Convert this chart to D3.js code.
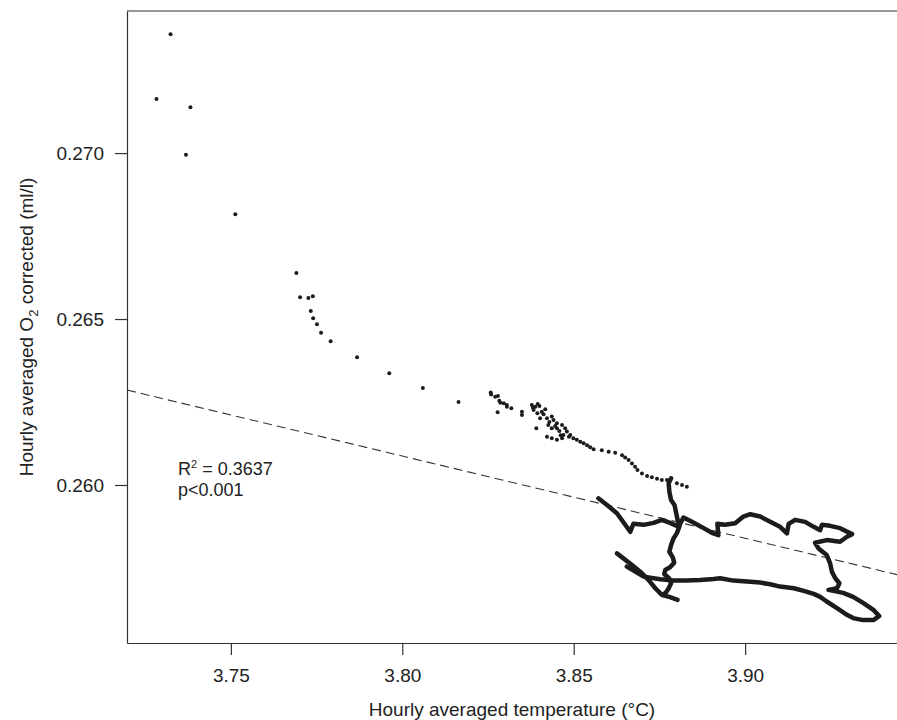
<!DOCTYPE html>
<html>
<head>
<meta charset="utf-8">
<script src="https://cdn.jsdelivr.net/npm/d3@7"></script>
<style>
  body { margin: 0; background: #fff; }
  text { font-family: "Liberation Sans", Arial, Helvetica, sans-serif; fill: #222; }
</style>
</head>
<body>
<div id="chart"></div>
<script>
// hourly means: [temperature (°C), O2 corrected (ml/l)]
const scatterPoints = [
  [3.7324, 0.27358], [3.7283, 0.27163], [3.7382, 0.27138], [3.7369, 0.26995],
  [3.7513, 0.26816], [3.7691, 0.26639], [3.7702, 0.26566], [3.7726, 0.26563],
  [3.7739, 0.26569], [3.7733, 0.26524], [3.7740, 0.26502], [3.7751, 0.26484],
  [3.7763, 0.26459], [3.7791, 0.26433], [3.7868, 0.26385], [3.7962, 0.26337],
  [3.8060, 0.26292], [3.8164, 0.26250],
  [3.8258, 0.26279], [3.8259, 0.26273], [3.8271, 0.26266], [3.8279, 0.26268],
  [3.8283, 0.26254], [3.8286, 0.26248], [3.8296, 0.26246], [3.8305, 0.26241],
  [3.8305, 0.26236], [3.8318, 0.26231], [3.8278, 0.26219], [3.8349, 0.26221],
  [3.8349, 0.26211],
  [3.8378, 0.26241], [3.8388, 0.26236], [3.8400, 0.26238], [3.8383, 0.26226],
  [3.8394, 0.26216], [3.8407, 0.26221], [3.8417, 0.26228], [3.8402, 0.26201],
  [3.8422, 0.26201], [3.8436, 0.26206], [3.8441, 0.26196], [3.8451, 0.26186],
  [3.8391, 0.26171], [3.8426, 0.26181], [3.8436, 0.26171], [3.8451, 0.26171],
  [3.8466, 0.26181], [3.8475, 0.26171], [3.8480, 0.26161], [3.8422, 0.26145],
  [3.8436, 0.26141], [3.8451, 0.26136], [3.8466, 0.26141], [3.8470, 0.26151],
  [3.8490, 0.26151], [3.8499, 0.26141], [3.8509, 0.26136], [3.8519, 0.26130],
  [3.8529, 0.26126], [3.8539, 0.26120], [3.8548, 0.26114], [3.8558, 0.26108],
  [3.8381, 0.26233], [3.8412, 0.26213], [3.8446, 0.26178], [3.8458, 0.26163],
  [3.8486, 0.26145], [3.8462, 0.26150], [3.8429, 0.26190], [3.8395, 0.26244],
  [3.8582, 0.26105], [3.8602, 0.26100], [3.8621, 0.26097], [3.8641, 0.26090],
  [3.8650, 0.26083], [3.8660, 0.26075], [3.8670, 0.26065], [3.8679, 0.26055],
  [3.8686, 0.26045], [3.8699, 0.26035], [3.8714, 0.26027], [3.8728, 0.26023],
  [3.8743, 0.26019], [3.8757, 0.26015], [3.8772, 0.26015], [3.8801, 0.26005],
  [3.8816, 0.26000], [3.8830, 0.25995]
];

// dense part of the record, hourly points so close they read as a line
const trailDown = [
  [3.8784, 0.26020], [3.8777, 0.26005], [3.8779, 0.25980], [3.8784, 0.25955],
  [3.8794, 0.25940], [3.8799, 0.25915], [3.8803, 0.25895], [3.8808, 0.25874],
  [3.8801, 0.25855], [3.8791, 0.25839], [3.8784, 0.25819], [3.8779, 0.25799],
  [3.8789, 0.25782], [3.8793, 0.25766], [3.8781, 0.25752], [3.8767, 0.25744],
  [3.8764, 0.25732], [3.8778, 0.25719], [3.8784, 0.25704], [3.8777, 0.25689],
  [3.8769, 0.25676], [3.8760, 0.25669]
];

const trailDiagonal = [
  [3.8626, 0.25794], [3.8645, 0.25779], [3.8670, 0.25759], [3.8694, 0.25739],
  [3.8718, 0.25714], [3.8738, 0.25689], [3.8757, 0.25669], [3.8781, 0.25662],
  [3.8803, 0.25654]
];

const trailLoop = [
  [3.8572, 0.25960], [3.8597, 0.25940], [3.8626, 0.25915], [3.8665, 0.25859],
  [3.8674, 0.25883], [3.8704, 0.25880], [3.8733, 0.25886], [3.8757, 0.25895],
  [3.8781, 0.25886], [3.8806, 0.25874], [3.8820, 0.25902], [3.8845, 0.25889],
  [3.8874, 0.25873], [3.8903, 0.25856], [3.8922, 0.25849], [3.8919, 0.25883],
  [3.8941, 0.25880], [3.8971, 0.25885], [3.8995, 0.25905], [3.9015, 0.25912],
  [3.9044, 0.25905], [3.9073, 0.25889], [3.9102, 0.25874], [3.9122, 0.25854],
  [3.9127, 0.25883], [3.9146, 0.25895], [3.9175, 0.25889], [3.9200, 0.25874],
  [3.9219, 0.25864], [3.9224, 0.25880], [3.9248, 0.25877], [3.9277, 0.25870],
  [3.9312, 0.25852], [3.9297, 0.25844], [3.9277, 0.25829], [3.9238, 0.25834],
  [3.9204, 0.25826], [3.9214, 0.25809], [3.9238, 0.25789], [3.9248, 0.25764],
  [3.9253, 0.25739], [3.9263, 0.25719], [3.9275, 0.25704], [3.9268, 0.25689],
  [3.9243, 0.25684], [3.9286, 0.25675], [3.9315, 0.25663], [3.9344, 0.25645],
  [3.9374, 0.25624], [3.9391, 0.25605], [3.9374, 0.25593], [3.9344, 0.25593],
  [3.9315, 0.25599], [3.9297, 0.25609], [3.9268, 0.25629], [3.9238, 0.25649],
  [3.9219, 0.25663], [3.9200, 0.25672], [3.9171, 0.25681], [3.9142, 0.25689],
  [3.9102, 0.25694], [3.9073, 0.25701], [3.9044, 0.25706], [3.9005, 0.25709],
  [3.8966, 0.25712], [3.8927, 0.25719], [3.8908, 0.25717], [3.8869, 0.25714],
  [3.8830, 0.25712], [3.8791, 0.25712], [3.8752, 0.25716], [3.8704, 0.25724],
  [3.8655, 0.25754]
];

// linear fit: o2 = intercept + slope * temp
const fitIntercept = 0.35496;
const fitSlope = -0.02476;
const fitStats = ["R", " = 0.3637", "p<0.001"];

const xTicks = [3.75, 3.80, 3.85, 3.90];
const yTicks = [0.260, 0.265, 0.270];

const margin = { top: 11, right: 0, bottom: 77, left: 127 };
const width = 897 - margin.left - margin.right;
const height = 720 - margin.top - margin.bottom;

const svg = d3.select("#chart")
  .append("svg")
  .attr("width", width + margin.left + margin.right)
  .attr("height", height + margin.top + margin.bottom)
  .append("g")
  .attr("transform", `translate(${margin.left}, ${margin.top})`);

const xScale = d3.scaleLinear()
  .domain([3.7197, 3.9443])
  .range([0, width]);

const yScale = d3.scaleLinear()
  .domain([0.25524, 0.27428])
  .range([height, 0]);

// axes
const xAxis = svg.append("g")
  .attr("transform", `translate(0, ${height})`)
  .call(d3.axisBottom(xScale).tickValues(xTicks).tickFormat(d3.format(".2f"))
    .tickSizeInner(12).tickSizeOuter(0).tickPadding(14));

const yAxis = svg.append("g")
  .call(d3.axisLeft(yScale).tickValues(yTicks).tickFormat(d3.format(".3f"))
    .tickSizeInner(12).tickSizeOuter(0).tickPadding(11));

[xAxis, yAxis].forEach((g) => {
  g.selectAll("path, line").attr("stroke", "#333").attr("stroke-width", 1.2);
  g.selectAll("text").style("font-size", "19px").attr("fill", "#222");
});

// top border
svg.append("line")
  .attr("x1", 0).attr("x2", width)
  .attr("y1", 0).attr("y2", 0)
  .attr("stroke", "#333")
  .attr("stroke-width", 1.2);

// regression line
svg.append("line")
  .attr("x1", xScale(xScale.domain()[0]))
  .attr("y1", yScale(fitIntercept + fitSlope * xScale.domain()[0]))
  .attr("x2", xScale(xScale.domain()[1]))
  .attr("y2", yScale(fitIntercept + fitSlope * xScale.domain()[1]))
  .attr("stroke", "#333")
  .attr("stroke-width", 1.1)
  .attr("stroke-dasharray", "9,5");

// dense record as thick line
const line = d3.line()
  .x((d) => xScale(d[0]))
  .y((d) => yScale(d[1]));

svg.selectAll("path.trail")
  .data([trailDown, trailDiagonal, trailLoop])
  .enter()
  .append("path")
  .attr("class", "trail")
  .attr("d", line)
  .attr("fill", "none")
  .attr("stroke", "#1c1c1c")
  .attr("stroke-width", 4.5)
  .attr("stroke-linejoin", "round")
  .attr("stroke-linecap", "round");

svg.selectAll("circle")
  .data(scatterPoints)
  .enter()
  .append("circle")
  .attr("cx", (d) => xScale(d[0]))
  .attr("cy", (d) => yScale(d[1]))
  .attr("r", 2)
  .attr("fill", "#1c1c1c");

// stats annotation
const stats = svg.append("text")
  .attr("x", 51)
  .attr("y", 464)
  .style("font-size", "18px");
stats.append("tspan").text(fitStats[0]);
stats.append("tspan").attr("dy", -7).style("font-size", "11px").text("2");
stats.append("tspan").attr("dy", 7).text(fitStats[1]);

svg.append("text")
  .attr("x", 51)
  .attr("y", 485)
  .style("font-size", "18px")
  .text(fitStats[2]);

// axis titles
svg.append("text")
  .attr("x", width / 2)
  .attr("y", height + 73)
  .style("text-anchor", "middle")
  .style("font-size", "19px")
  .text("Hourly averaged temperature (°C)");

const yTitle = svg.append("text")
  .attr("transform", "rotate(-90)")
  .attr("x", -height / 2)
  .attr("y", -margin.left + 33)
  .style("text-anchor", "middle")
  .style("font-size", "19px");
yTitle.append("tspan").text("Hourly averaged O");
yTitle.append("tspan").attr("dy", 5).style("font-size", "13px").text("2");
yTitle.append("tspan").attr("dy", -5).text(" corrected (ml/l)");
</script>
</body>
</html>
